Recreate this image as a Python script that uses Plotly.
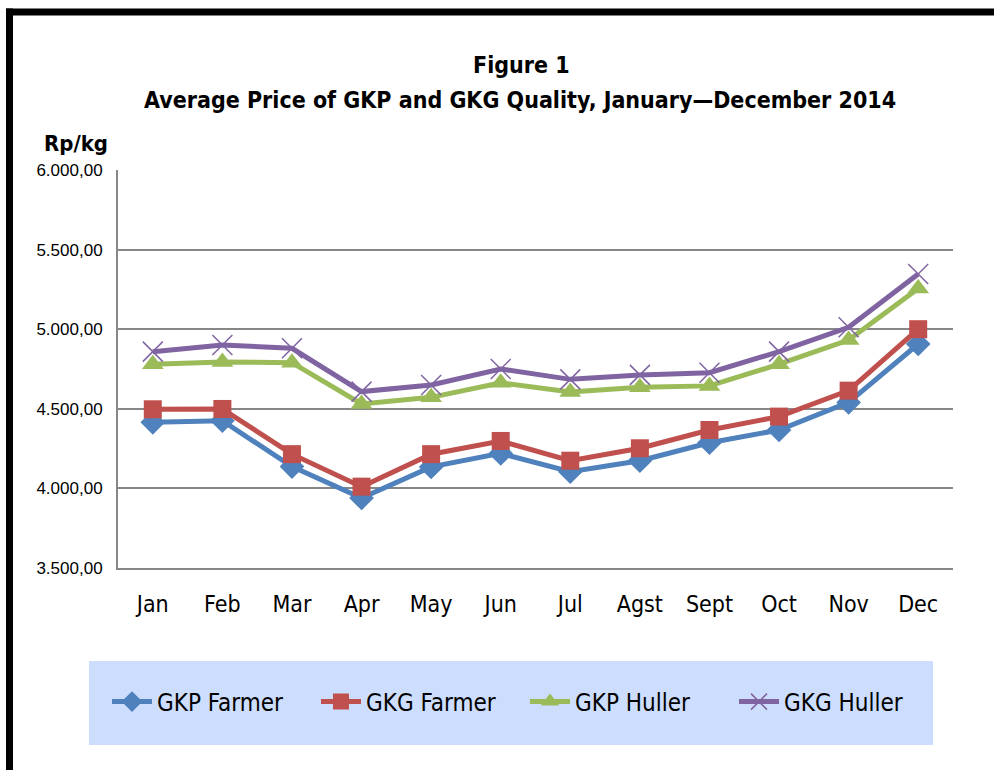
import plotly.graph_objects as go

months = ["Jan", "Feb", "Mar", "Apr", "May", "Jun", "Jul", "Agst", "Sept", "Oct", "Nov", "Dec"]
gkp_farmer = [4415, 4425, 4137, 3940, 4135, 4220, 4105, 4174, 4287, 4367, 4540, 4907]
gkg_farmer = [4497, 4499, 4215, 4011, 4215, 4298, 4174, 4252, 4367, 4451, 4614, 5000]
gkp_huller = [4780, 4794, 4790, 4530, 4572, 4664, 4605, 4635, 4644, 4780, 4932, 5255]
gkg_huller = [4859, 4901, 4880, 4608, 4650, 4750, 4685, 4713, 4727, 4859, 5012, 5347]

series = [
    ("GKP Farmer", gkp_farmer, "#4F81BD", "diamond", 19),
    ("GKG Farmer", gkg_farmer, "#C0504D", "square", 18),
    ("GKP Huller", gkp_huller, "#9BBB59", "triangle-up", 19),
    ("GKG Huller", gkg_huller, "#8064A2", "x-thin-open", 20),
]

narrow = "Liberation Sans Narrow, Arial Narrow, DejaVu Sans Condensed, sans-serif"

PLOT_L, PLOT_R, PLOT_T, PLOT_B = 118, 953, 170, 568
W, H = PLOT_R - PLOT_L, PLOT_B - PLOT_T


def px_x(x):
    return (x - PLOT_L) / W


def px_y(y):
    return (PLOT_B - y) / H


fig = go.Figure()
for name, vals, color, sym, size in series:
    marker = dict(symbol=sym, size=size, color=color)
    if sym == "x-thin-open":
        marker["line"] = dict(color=color, width=1.5)
    fig.add_trace(go.Scatter(
        x=months, y=vals, name=name, mode="lines+markers",
        line=dict(color=color, width=5), marker=marker,
    ))

fig.update_layout(
    width=994, height=770,
    margin=dict(l=PLOT_L, r=994 - PLOT_R, t=PLOT_T, b=770 - PLOT_B),
    paper_bgcolor="white", plot_bgcolor="white",
    separators=",.",
    showlegend=True,
    legend=dict(
        orientation="h", x=px_x(107), xanchor="left", y=px_y(702), yanchor="middle",
        bgcolor="rgba(0,0,0,0)", font=dict(family=narrow, size=24, color="black"),
        itemwidth=40, tracegroupgap=0, itemsizing="trace", entrywidth=154,
    ),
    font=dict(family="Liberation Sans, Arial, sans-serif", color="black"),
    shapes=[
        dict(type="rect", xref="paper", yref="paper", x0=px_x(89), x1=px_x(933),
             y0=px_y(745), y1=px_y(661), fillcolor="#CCDDFD", line=dict(width=0), layer="below"),
        dict(type="line", xref="paper", yref="paper", x0=px_x(9.5), x1=px_x(9.5),
             y0=px_y(8.5), y1=px_y(800), line=dict(color="black", width=7)),
        dict(type="line", xref="paper", yref="paper", x0=px_x(6), x1=px_x(1000),
             y0=px_y(12), y1=px_y(12), line=dict(color="black", width=7)),
    ],
    annotations=[
        dict(text="<b>Figure 1</b>", xref="paper", yref="paper",
             x=px_x(521), y=px_y(65), xanchor="center", yanchor="middle",
             showarrow=False, font=dict(family=narrow, size=23, color="black")),
        dict(text="<b>Average Price of GKP and GKG Quality, January\u2014December 2014</b>",
             xref="paper", yref="paper",
             x=px_x(520), y=px_y(100), xanchor="center", yanchor="middle",
             showarrow=False, font=dict(family=narrow, size=23, color="black")),
        dict(text="<b>Rp/kg</b>", xref="paper", yref="paper",
             x=px_x(42), y=px_y(143), xanchor="left", yanchor="middle",
             showarrow=False, font=dict(family=narrow, size=22, color="black")),
    ],
)

fig.update_xaxes(
    range=[-0.5, len(months) - 0.5],
    showline=True, linecolor="#878787", linewidth=2, showgrid=False,
    ticks="", tickfont=dict(family=narrow, size=23, color="black"),
    ticklabelstandoff=14, fixedrange=True,
)
fig.update_yaxes(
    range=[3500, 6000], dtick=500, tickformat=",.2f",
    showline=True, linecolor="#878787", linewidth=2,
    showgrid=True, gridcolor="#878787", gridwidth=2,
    ticks="", tickfont=dict(size=17, color="black"), ticklabelstandoff=10,
    zeroline=False, fixedrange=True,
)

fig.write_html("out.html", config={"displayModeBar": False},
               post_script="document.body.style.margin='0';")
